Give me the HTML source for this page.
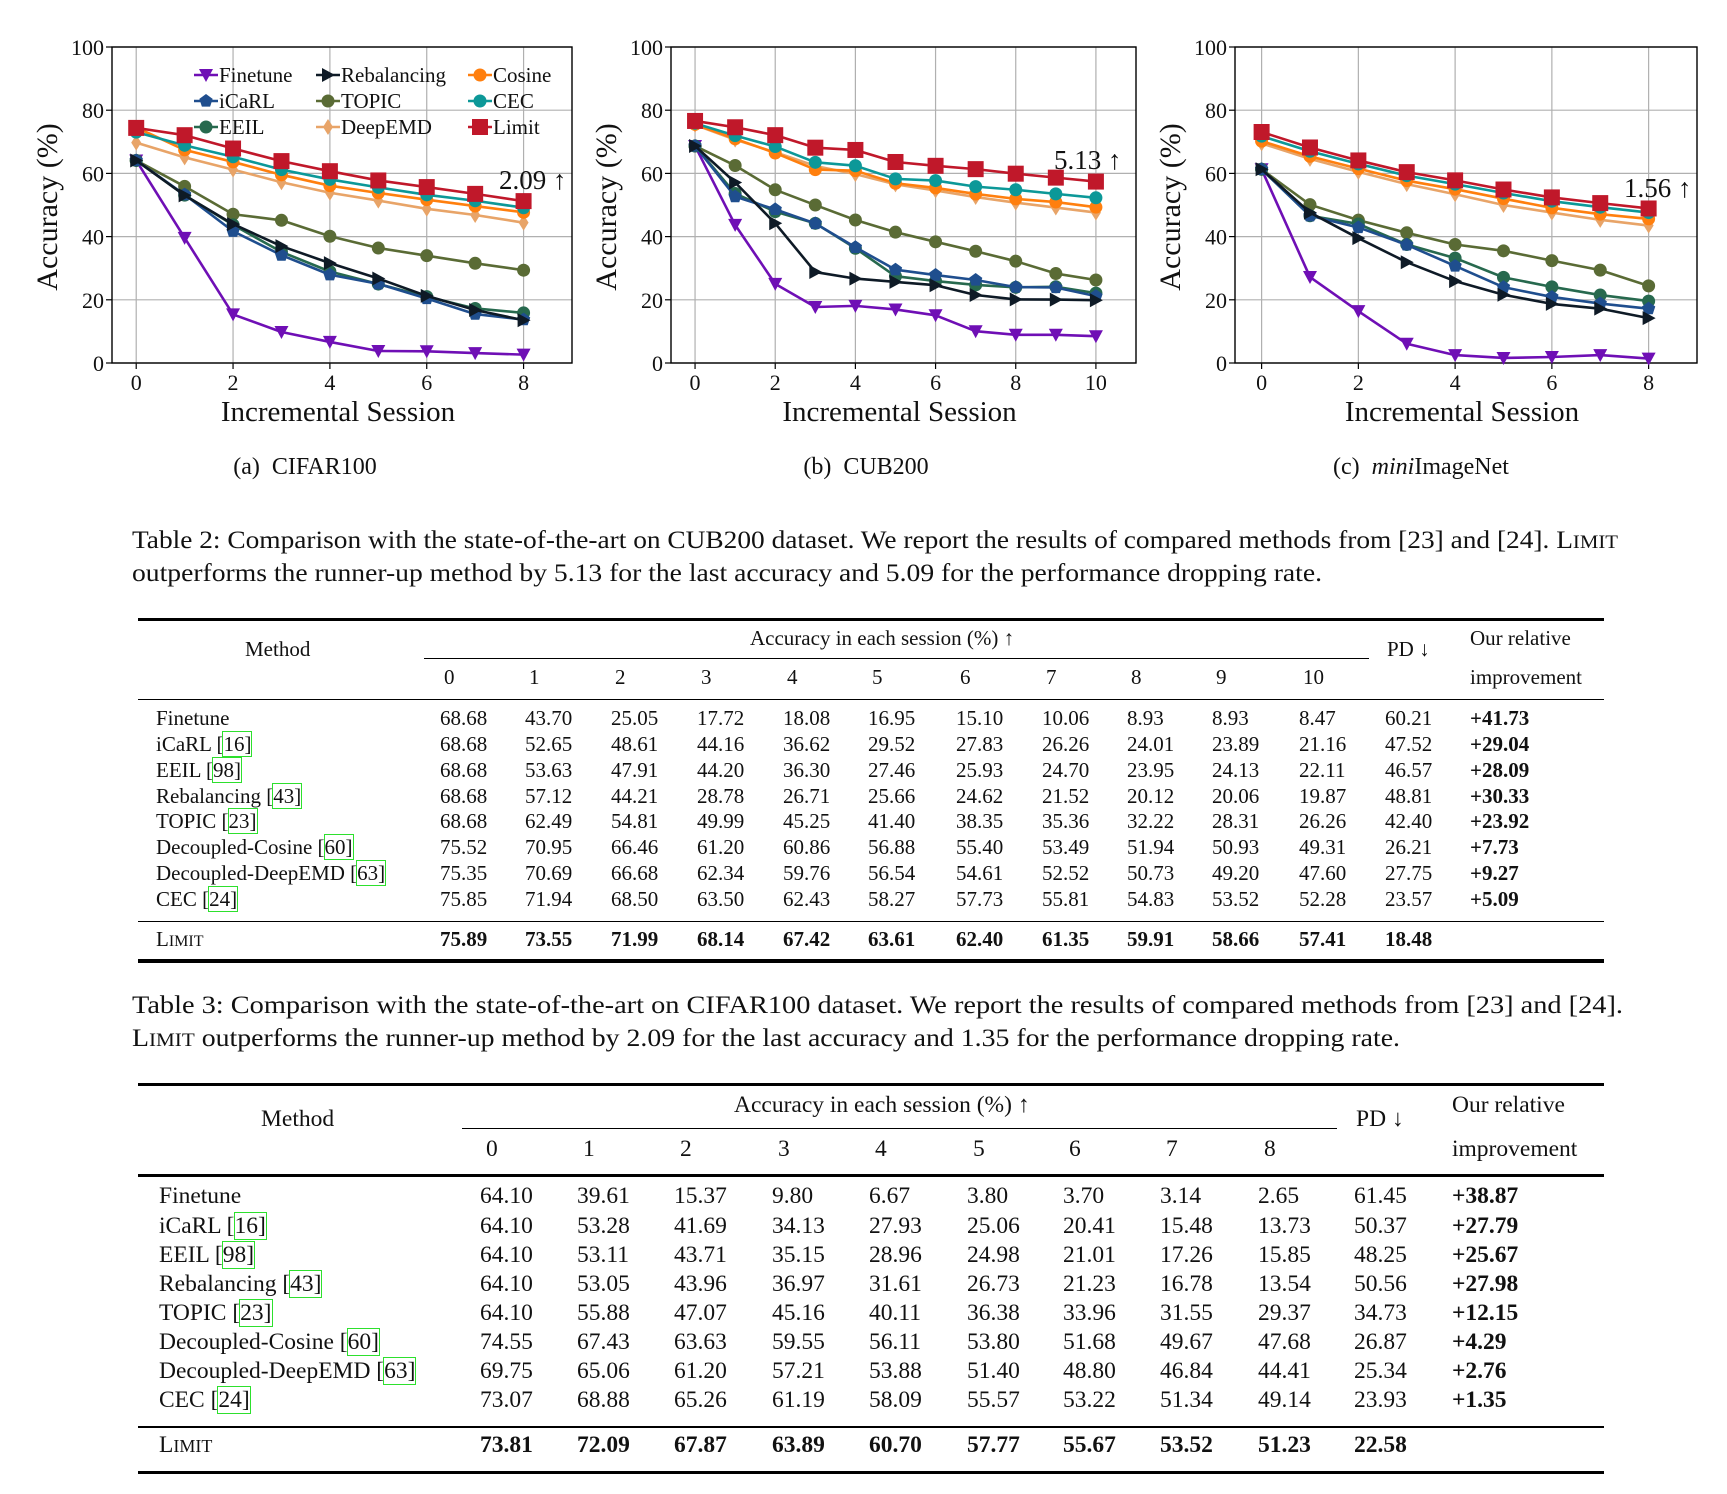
<!DOCTYPE html>
<html><head><meta charset="utf-8">
<style>
html,body{margin:0;padding:0;background:#fff;}
body{width:1727px;height:1494px;position:relative;overflow:hidden;font-family:"Liberation Serif",serif;color:#111;}
.t{position:absolute;white-space:nowrap;line-height:1.2;}
.rule{position:absolute;background:#000;}
.c{outline:1.2px solid #2de02d;outline-offset:0px;}
.sc{font-variant:small-caps;}
.b{font-weight:bold;}
svg text{font-family:"Liberation Serif",serif;fill:#111;}
</style></head>
<body>
<svg id="charts" width="1727" height="500" style="position:absolute;left:0;top:0"></svg>
<svg id="caps" width="1727" height="1494" style="position:absolute;left:0;top:0;pointer-events:none"></svg>
<div id="tables"></div>
<script>
// ---------- chart data ----------
const sessionsCifar = [0,1,2,3,4,5,6,7,8];
const sessionsCub = [0,1,2,3,4,5,6,7,8,9,10];
const sessionsMini = [0,1,2,3,4,5,6,7,8];
const yTicks = [0,20,40,60,80,100];
const xTicksCifar = [0,2,4,6,8];
const xTicksCub = [0,2,4,6,8,10];
const xTicksMini = [0,2,4,6,8];
const methodNames = ["Finetune","Rebalancing","Cosine","iCaRL","TOPIC","CEC","EEIL","DeepEMD","Limit"];

const cifarFinetune = [64.10,39.61,15.37,9.80,6.67,3.80,3.70,3.14,2.65];
const cifarIcarl = [64.10,53.28,41.69,34.13,27.93,25.06,20.41,15.48,13.73];
const cifarEeil = [64.10,53.11,43.71,35.15,28.96,24.98,21.01,17.26,15.85];
const cifarRebal = [64.10,53.05,43.96,36.97,31.61,26.73,21.23,16.78,13.54];
const cifarTopic = [64.10,55.88,47.07,45.16,40.11,36.38,33.96,31.55,29.37];
const cifarCosine = [74.55,67.43,63.63,59.55,56.11,53.80,51.68,49.67,47.68];
const cifarDeepemd = [69.75,65.06,61.20,57.21,53.88,51.40,48.80,46.84,44.41];
const cifarCec = [73.07,68.88,65.26,61.19,58.09,55.57,53.22,51.34,49.14];
const cifarLimit = [74.4,72.09,67.87,63.89,60.70,57.77,55.67,53.52,51.23];

const cubFinetune = [68.68,43.70,25.05,17.72,18.08,16.95,15.10,10.06,8.93,8.93,8.47];
const cubIcarl = [68.68,52.65,48.61,44.16,36.62,29.52,27.83,26.26,24.01,23.89,21.16];
const cubEeil = [68.68,53.63,47.91,44.20,36.30,27.46,25.93,24.70,23.95,24.13,22.11];
const cubRebal = [68.68,57.12,44.21,28.78,26.71,25.66,24.62,21.52,20.12,20.06,19.87];
const cubTopic = [68.68,62.49,54.81,49.99,45.25,41.40,38.35,35.36,32.22,28.31,26.26];
const cubCosine = [75.52,70.95,66.46,61.20,60.86,56.88,55.40,53.49,51.94,50.93,49.31];
const cubDeepemd = [75.35,70.69,66.68,62.34,59.76,56.54,54.61,52.52,50.73,49.20,47.60];
const cubCec = [75.85,71.94,68.50,63.50,62.43,58.27,57.73,55.81,54.83,53.52,52.28];
const cubLimit = [76.6,74.6,72.1,68.14,67.42,63.61,62.40,61.35,59.91,58.66,57.41];

const miniFinetune = [61.3,27.2,16.4,6.1,2.5,1.6,1.9,2.5,1.4];
const miniIcarl = [61.3,46.6,42.9,37.4,30.7,24.0,20.9,18.8,17.2];
const miniEeil = [61.3,46.6,44.0,37.5,33.2,27.1,24.1,21.5,19.6];
const miniRebal = [61.3,47.6,39.5,31.9,25.9,21.6,18.7,17.2,14.2];
const miniTopic = [61.3,50.1,45.2,41.2,37.5,35.5,32.4,29.4,24.4];
const miniCosine = [70.2,65.4,61.5,57.7,55.0,52.0,49.1,47.1,45.6];
const miniDeepemd = [69.5,64.6,60.5,56.6,53.4,50.0,47.6,45.3,43.5];
const miniCec = [71.8,67.0,63.0,59.3,56.6,53.8,51.2,49.3,47.6];
const miniLimit = [73.1,68.2,64.1,60.4,57.8,54.9,52.4,50.6,48.9];

const styles = {
  Finetune:{color:"#6f0fb5",marker:"tridown"},
  Rebalancing:{color:"#0e1a26",marker:"triright"},
  Cosine:{color:"#ff7f0e",marker:"circle"},
  iCaRL:{color:"#1f4e8e",marker:"pentagon"},
  TOPIC:{color:"#5a6b35",marker:"circle"},
  CEC:{color:"#0c9898",marker:"circle"},
  EEIL:{color:"#27694e",marker:"circle"},
  DeepEMD:{color:"#e8a468",marker:"diamond"},
  Limit:{color:"#c0182a",marker:"square"}
};

const NS = "http://www.w3.org/2000/svg";
function mk(parent, tag, attrs){
  const e = document.createElementNS(NS, tag);
  for (const k in attrs) e.setAttribute(k, attrs[k]);
  parent.appendChild(e);
  return e;
}
function marker(g, type, x, y, color){
  let e;
  if (type==="circle") e = mk(g,"circle",{cx:x,cy:y,r:6.5,fill:color});
  else if (type==="square") e = mk(g,"rect",{x:x-8,y:y-8,width:16,height:16,fill:color});
  else if (type==="tridown") e = mk(g,"polygon",{points:`${x-7},${y-6} ${x+7},${y-6} ${x},${y+7}`,fill:color});
  else if (type==="triright") e = mk(g,"polygon",{points:`${x-6},${y-7} ${x+7},${y} ${x-6},${y+7}`,fill:color});
  else if (type==="diamond") e = mk(g,"polygon",{points:`${x},${y-8} ${x+5},${y} ${x},${y+8} ${x-5},${y}`,fill:color});
  else { const p=[]; for(let i=0;i<5;i++){const a=-Math.PI/2+i*2*Math.PI/5;p.push((x+7*Math.cos(a))+","+(y+7*Math.sin(a)));} e = mk(g,"polygon",{points:p.join(" "),fill:color}); }
  
  
}

function drawChart(cfg){
  const svg = document.getElementById("charts");
  const g = mk(svg,"g",{});
  
  
  const top=47, bottom=363;
  const xs = v => cfg.left + (v - cfg.xmin)/(cfg.xmax - cfg.xmin)*(cfg.right - cfg.left);
  const ys = v => bottom - v/100*(bottom-top);
  cfg.xticks.forEach(t=>{
    const l = mk(g,"line",{x1:xs(t),x2:xs(t),y1:top,y2:bottom,stroke:"#b0b0b0","stroke-width":1.2});
    
    
    const tk = mk(g,"line",{x1:xs(t),x2:xs(t),y1:bottom,y2:bottom+6,stroke:"#000","stroke-width":1.2});
    
    
    const tx = mk(g,"text",{x:xs(t),y:bottom+27,"text-anchor":"middle","font-size":22});
    tx.textContent = t;
    
    
  });
  yTicks.forEach(t=>{
    const l = mk(g,"line",{x1:cfg.left,x2:cfg.right,y1:ys(t),y2:ys(t),stroke:"#b0b0b0","stroke-width":1.2});
    
    
    const tk = mk(g,"line",{x1:cfg.left-6,x2:cfg.left,y1:ys(t),y2:ys(t),stroke:"#000","stroke-width":1.2});
    
    
    const tx = mk(g,"text",{x:cfg.left-8,y:ys(t)+8,"text-anchor":"end","font-size":22});
    tx.textContent = t;
    
    
  });
  const frame = mk(g,"rect",{x:cfg.left,y:top,width:cfg.right-cfg.left,height:bottom-top,fill:"none",stroke:"#000","stroke-width":1.4});
  
  
  const order = ["Finetune","TOPIC","EEIL","iCaRL","Rebalancing","DeepEMD","Cosine","CEC","Limit"];
  order.forEach(m=>{
    const vals = cfg.series[m], st = styles[m];
    const sg = mk(g,"g",{});
    
    
    const pts = vals.map((v,i)=>xs(cfg.sessions[i])+","+ys(v)).join(" ");
    const pl = mk(sg,"polyline",{points:pts,fill:"none",stroke:st.color,"stroke-width":2.6,"stroke-linejoin":"round"});
    
    
    vals.forEach((v,i)=>marker(sg, st.marker, xs(cfg.sessions[i]), ys(v), st.color));
  });
  const xt = mk(g,"text",{x:(cfg.left+cfg.right)/2 - 4,y:421,"text-anchor":"middle","font-size":29});
  xt.textContent = "Incremental Session";
  
  
  const yx = cfg.left-55, yc = 207;
  const yt = mk(g,"text",{x:yx,y:yc,"text-anchor":"middle","font-size":30,transform:`rotate(-90 ${yx} ${yc})`});
  yt.textContent = "Accuracy (%)";
  
  
  const an = mk(g,"text",{x:cfg.annX,y:cfg.annY,"font-size":27});
  an.textContent = cfg.ann;
  
  
  const sub = mk(g,"text",{x:cfg.subX,y:474,"text-anchor":"middle","font-size":24});
  sub.innerHTML = cfg.sub;
  
  
  if (cfg.legend){
    const lg = mk(g,"g",{});
    
    
    const cols=[194,316,468], rows=[75,101,127];
    methodNames.forEach((m,i)=>{
      const cx = cols[i%3], cy = rows[Math.floor(i/3)], st = styles[m];
      const e = mk(lg,"g",{});
      
      
      mk(e,"line",{x1:cx,x2:cx+24,y1:cy,y2:cy,stroke:st.color,"stroke-width":2.6});
      marker(e, st.marker, cx+12, cy, st.color);
      const t = mk(e,"text",{x:cx+25,y:cy+7,"font-size":21});
      t.textContent = m;
    });
  }
}

drawChart({name:"chart-cifar100",left:112,right:572,xmin:-0.5,xmax:9,sessions:sessionsCifar,xticks:xTicksCifar,
  series:{Finetune:cifarFinetune,iCaRL:cifarIcarl,EEIL:cifarEeil,Rebalancing:cifarRebal,TOPIC:cifarTopic,Cosine:cifarCosine,DeepEMD:cifarDeepemd,CEC:cifarCec,Limit:cifarLimit},
  ann:"2.09 ↑",annX:499,annY:189,sub:"(a)&#160;&#160;CIFAR100",subX:305,legend:true});
drawChart({name:"chart-cub200",left:671,right:1136,xmin:-0.6,xmax:11,sessions:sessionsCub,xticks:xTicksCub,
  series:{Finetune:cubFinetune,iCaRL:cubIcarl,EEIL:cubEeil,Rebalancing:cubRebal,TOPIC:cubTopic,Cosine:cubCosine,DeepEMD:cubDeepemd,CEC:cubCec,Limit:cubLimit},
  ann:"5.13 ↑",annX:1054,annY:169,sub:"(b)&#160;&#160;CUB200",subX:866});
drawChart({name:"chart-miniimagenet",left:1235,right:1697,xmin:-0.55,xmax:9,sessions:sessionsMini,xticks:xTicksMini,
  series:{Finetune:miniFinetune,iCaRL:miniIcarl,EEIL:miniEeil,Rebalancing:miniRebal,TOPIC:miniTopic,Cosine:miniCosine,DeepEMD:miniDeepemd,CEC:miniCec,Limit:miniLimit},
  ann:"1.56 ↑",annX:1624,annY:197,sub:"(c)&#160;&#160;<tspan font-style='italic'>mini</tspan>ImageNet",subX:1421});

// ---------- captions ----------
const caps = document.getElementById("caps");
function capLine(txt, x, y, len, name){
  const t = mk(caps,"text",{x:x,y:y,"font-size":25,textLength:len,lengthAdjust:"spacingAndGlyphs"});
  t.innerHTML = txt;
  
  
}
capLine("Table 2: Comparison with the state-of-the-art on CUB200 dataset. We report the results of compared methods from [23] and [24]. L<tspan font-size='19'>IMIT</tspan>",132,548,1486,"table2-caption-line1");
capLine("outperforms the runner-up method by 5.13 for the last accuracy and 5.09 for the performance dropping rate.",132,581,1190,"table2-caption-line2");
capLine("Table 3: Comparison with the state-of-the-art on CIFAR100 dataset. We report the results of compared methods from [23] and [24].",132,1013,1491,"table3-caption-line1");
capLine("L<tspan font-size='19'>IMIT</tspan> outperforms the runner-up method by 2.09 for the last accuracy and 1.35 for the performance dropping rate.",132,1046,1268,"table3-caption-line2");

// ---------- tables ----------
const tables = document.getElementById("tables");
function txt(html, x, cy, fs, name, extra){
  const d = document.createElement("div");
  d.className = "t" + (extra? " "+extra : "");
  d.style.left = x + "px";
  d.style.top = (cy - fs*0.66) + "px";
  d.style.fontSize = fs + "px";
  d.innerHTML = html;
  
  
  tables.appendChild(d);
  return d;
}
function rule(x, y, w, h, name){
  const d = document.createElement("div");
  d.className = "rule";
  d.style.left = x+"px"; d.style.top = y+"px"; d.style.width = w+"px"; d.style.height = h+"px";
  
  
  tables.appendChild(d);
}
const methodsT = ["Finetune","iCaRL [<span class='c'>16]</span>","EEIL [<span class='c'>98]</span>","Rebalancing [<span class='c'>43]</span>","TOPIC [<span class='c'>23]</span>","Decoupled-Cosine [<span class='c'>60]</span>","Decoupled-DeepEMD [<span class='c'>63]</span>","CEC [<span class='c'>24]</span>"];

const t2rows = [
 ["68.68","43.70","25.05","17.72","18.08","16.95","15.10","10.06","8.93","8.93","8.47","60.21","+41.73"],
 ["68.68","52.65","48.61","44.16","36.62","29.52","27.83","26.26","24.01","23.89","21.16","47.52","+29.04"],
 ["68.68","53.63","47.91","44.20","36.30","27.46","25.93","24.70","23.95","24.13","22.11","46.57","+28.09"],
 ["68.68","57.12","44.21","28.78","26.71","25.66","24.62","21.52","20.12","20.06","19.87","48.81","+30.33"],
 ["68.68","62.49","54.81","49.99","45.25","41.40","38.35","35.36","32.22","28.31","26.26","42.40","+23.92"],
 ["75.52","70.95","66.46","61.20","60.86","56.88","55.40","53.49","51.94","50.93","49.31","26.21","+7.73"],
 ["75.35","70.69","66.68","62.34","59.76","56.54","54.61","52.52","50.73","49.20","47.60","27.75","+9.27"],
 ["75.85","71.94","68.50","63.50","62.43","58.27","57.73","55.81","54.83","53.52","52.28","23.57","+5.09"]];
const t2limit = ["75.89","73.55","71.99","68.14","67.42","63.61","62.40","61.35","59.91","58.66","57.41","18.48"];
const t2cols = [440,525,611,697,783,868,956,1042,1127,1212,1299,1385,1470];

(function(){
  const fs=21;
  rule(138,618,1466,3,"table2-top-rule");
  rule(424,658,945,1.3,"table2-session-rule");
  rule(138,699,1466,1.3,"table2-header-rule");
  rule(138,921,1466,1.3,"table2-limit-rule");
  rule(138,959,1466,3.5,"table2-bottom-rule");
  txt("Method",245,651,fs,"table2-method-header");
  txt("Accuracy in each session (%) ↑",750,640,fs,"table2-accuracy-header");
  for(let i=0;i<=10;i++) txt(String(i),t2cols[i]+4,679,fs,"table2-session-header");
  txt("PD ↓",1387,651,fs,"table2-pd-header");
  txt("Our relative",1470,640,fs,"table2-improvement-header");
  txt("improvement",1470,679,fs,"table2-improvement-header");
  t2rows.forEach((r,ri)=>{
    const cy = 720 + ri*25.8;
    txt(methodsT[ri],156,cy,fs,"table2-method-name");
    r.forEach((v,ci)=>txt(v,t2cols[ci],cy,fs,"table2-cell",ci===12?"b":""));
  });
  txt("L<span style='font-size:16px'>IMIT</span>",156,941,fs,"table2-method-name");
  t2limit.forEach((v,ci)=>txt(v,t2cols[ci],941,fs,"table2-cell","b"));
})();

const t3rows = [
 ["64.10","39.61","15.37","9.80","6.67","3.80","3.70","3.14","2.65","61.45","+38.87"],
 ["64.10","53.28","41.69","34.13","27.93","25.06","20.41","15.48","13.73","50.37","+27.79"],
 ["64.10","53.11","43.71","35.15","28.96","24.98","21.01","17.26","15.85","48.25","+25.67"],
 ["64.10","53.05","43.96","36.97","31.61","26.73","21.23","16.78","13.54","50.56","+27.98"],
 ["64.10","55.88","47.07","45.16","40.11","36.38","33.96","31.55","29.37","34.73","+12.15"],
 ["74.55","67.43","63.63","59.55","56.11","53.80","51.68","49.67","47.68","26.87","+4.29"],
 ["69.75","65.06","61.20","57.21","53.88","51.40","48.80","46.84","44.41","25.34","+2.76"],
 ["73.07","68.88","65.26","61.19","58.09","55.57","53.22","51.34","49.14","23.93","+1.35"]];
const t3limit = ["73.81","72.09","67.87","63.89","60.70","57.77","55.67","53.52","51.23","22.58"];
const t3cols = [480,577,674,772,869,967,1063,1160,1258,1354,1452];

(function(){
  const fs=23.5;
  rule(138,1083,1466,3,"table3-top-rule");
  rule(462,1128,875,1.3,"table3-session-rule");
  rule(138,1174,1466,2.5,"table3-header-rule");
  rule(138,1426,1466,2,"table3-limit-rule");
  rule(138,1471,1466,3,"table3-bottom-rule");
  txt("Method",261,1121,fs,"table3-method-header");
  txt("Accuracy in each session (%) ↑",734,1107,fs,"table3-accuracy-header");
  for(let i=0;i<=8;i++) txt(String(i),t3cols[i]+6,1151,fs,"table3-session-header");
  txt("PD ↓",1356,1121,fs,"table3-pd-header");
  txt("Our relative",1452,1107,fs,"table3-improvement-header");
  txt("improvement",1452,1151,fs,"table3-improvement-header");
  t3rows.forEach((r,ri)=>{
    const cy = 1198 + ri*29.1;
    txt(methodsT[ri],159,cy,fs,"table3-method-name");
    r.forEach((v,ci)=>txt(v,t3cols[ci],cy,fs,"table3-cell",ci===10?"b":""));
  });
  txt("L<span style='font-size:18px'>IMIT</span>",159,1447,fs,"table3-method-name");
  t3limit.forEach((v,ci)=>txt(v,t3cols[ci],1447,fs,"table3-cell","b"));
})();
</script>
</body></html>
